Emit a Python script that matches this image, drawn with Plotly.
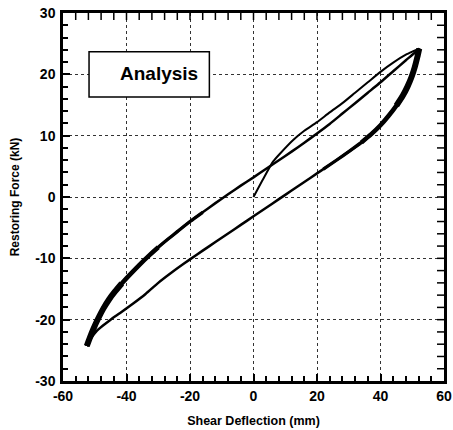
import plotly.graph_objects as go

# Initial loading curve (from origin to first peak)
init_x = [0, 3, 6.2, 8.4, 12.5, 16, 20, 24, 28, 32, 36, 40, 44, 48, 50.5, 52.2]
init_y = [0, 2.9, 5.8, 7.1, 9.3, 10.8, 12.2, 13.8, 15.3, 17.0, 18.7, 20.4, 21.9, 23.2, 23.8, 24.2]

# Loop: loading branch (negative peak -> positive peak)
up_x = [-52.5, -51.5, -50.5, -49, -47.3, -45.5, -43.6, -41.5, -39, -36, -33, -30, -27, -24,
        -20, -16, -12, -8, -4, 0, 4, 8, 12, 16, 20, 24, 28, 32, 36, 40, 44, 48, 50.5, 52.2]
up_y = [-24.3, -22.9, -21.6, -19.9, -18.2, -16.7, -15.4, -14.1, -12.7, -11.1, -9.6, -8.2, -6.9, -5.65,
        -4.0, -2.5, -1.0, 0.45, 1.85, 3.2, 4.6, 6.0, 7.4, 8.85, 10.35, 11.9, 13.6, 15.3, 17.0, 18.7,
        20.5, 22.3, 23.4, 24.2]

# Loop: unloading branch (positive peak -> negative peak)
dn_x = [52.2, 51.6, 50.8, 49.8, 48.5, 47, 45, 42.5, 40, 37, 34, 30, 26, 22, 18, 14, 10, 6, 2,
        -2, -6, -10, -14, -18, -22, -26, -30, -34, -38, -42, -45, -47.5, -49.5, -51, -52, -52.5]
dn_y = [24.2, 22.8, 21.2, 19.6, 18.0, 16.5, 14.9, 13.2, 11.7, 10.2, 8.9, 7.4, 5.95, 4.55, 3.15,
        1.75, 0.35, -1.05, -2.45, -3.85, -5.25, -6.65, -8.05, -9.45, -10.9, -12.4, -14.0, -15.8,
        -17.4, -18.9, -20.0, -21.0, -21.9, -22.9, -23.7, -24.3]

x_ticks = [-60, -40, -20, 0, 20, 40, 60]
y_ticks = [-30, -20, -10, 0, 10, 20, 30]
X_MINOR_STEP = 4
Y_MINOR_STEP = 2

FONT = "Liberation Sans, Arial, sans-serif"

fig = go.Figure()
line_kw = dict(mode="lines", showlegend=False, hoverinfo="skip")
fig.add_trace(go.Scatter(x=init_x, y=init_y, line=dict(color="black", width=2, shape="spline", smoothing=0.6), **line_kw))

def branch(xs, ys, limit_fn, width):
    px = [a for a, b in zip(xs, ys) if limit_fn(a)]
    py = [b for a, b in zip(xs, ys) if limit_fn(a)]
    fig.add_trace(go.Scatter(x=px, y=py, line=dict(color="black", width=width, shape="spline", smoothing=0.6), **line_kw))

# base loop lines
branch(up_x, up_y, lambda a: True, 2.5)
branch(dn_x, dn_y, lambda a: True, 2.5)
# thicker portions near the extremes (several overlapping cycles)
branch(up_x, up_y, lambda a: a <= -16, 3.3)
branch(up_x, up_y, lambda a: a <= -30, 4.5)
branch(up_x, up_y, lambda a: a <= -41.5, 6)
branch(dn_x, dn_y, lambda a: a >= 22, 3.3)
branch(dn_x, dn_y, lambda a: a >= 34, 4.5)
branch(dn_x, dn_y, lambda a: a >= 45, 6)

# mirrored tick marks on the top and right frame edges (markers clipped to the plot area,
# so only the inner half of each tick shows)
x_lo, x_hi = x_ticks[0], x_ticks[-1]
y_lo, y_hi = y_ticks[0], y_ticks[-1]
top_ticks = [x_lo + X_MINOR_STEP * i for i in range(1, int((x_hi - x_lo) / X_MINOR_STEP))]
right_ticks = [y_lo + Y_MINOR_STEP * i for i in range(1, int((y_hi - y_lo) / Y_MINOR_STEP))]
tick_kw = dict(mode="markers", showlegend=False, hoverinfo="skip", cliponaxis=True)
fig.add_trace(go.Scatter(
    x=top_ticks, y=[y_hi] * len(top_ticks),
    marker=dict(symbol="line-ns", size=10, color="black", line=dict(color="black", width=1.5)),
    **tick_kw))
fig.add_trace(go.Scatter(
    x=[x_hi] * len(right_ticks), y=right_ticks,
    marker=dict(symbol="line-ew", size=10, color="black", line=dict(color="black", width=1.5)),
    **tick_kw))

tickfont = dict(family=FONT, size=14, color="black", weight="bold")
axis_common = dict(
    showline=True, linecolor="black", linewidth=2.5, mirror=True,
    ticks="inside", ticklen=7, tickwidth=2, tickcolor="black",
    showgrid=True, gridcolor="#333", gridwidth=1, griddash="dot",
    zeroline=False, tickfont=tickfont, automargin=False,
)

fig.update_layout(
    xaxis=dict(
        range=[x_lo, x_hi], tickvals=x_ticks, ticktext=[str(v) for v in x_ticks],
        minor=dict(dtick=X_MINOR_STEP, ticks="inside", ticklen=5, tickwidth=1.5, tickcolor="black", showgrid=False),
        title=dict(text="Shear Deflection (mm)", font=dict(family=FONT, size=12.5, color="black", weight="bold"), standoff=14),
        **axis_common,
    ),
    yaxis=dict(
        range=[y_lo, y_hi], tickvals=y_ticks, ticktext=[str(v) for v in y_ticks],
        minor=dict(dtick=Y_MINOR_STEP, ticks="inside", ticklen=5, tickwidth=1.5, tickcolor="black", showgrid=False),
        title=dict(text="Restoring Force (kN)", font=dict(family=FONT, size=12, color="black", weight="bold"), standoff=14),
        ticklabelstandoff=2,
        **axis_common,
    ),
)

fig.add_shape(type="rect", xref="x", yref="y", x0=-51.8, x1=-13.9, y0=16.3, y1=23.7,
              line=dict(color="black", width=1.5), fillcolor="white", layer="above")
fig.add_annotation(x=-29.8, y=20.1, xref="x", yref="y", text="Analysis", showarrow=False,
                   font=dict(family=FONT, size=19, color="black", weight="bold"))

fig.update_layout(
    width=453, height=430,
    margin=dict(l=63, r=9, t=13, b=49),
    paper_bgcolor="white", plot_bgcolor="white",
)

fig.write_html("out.html")
